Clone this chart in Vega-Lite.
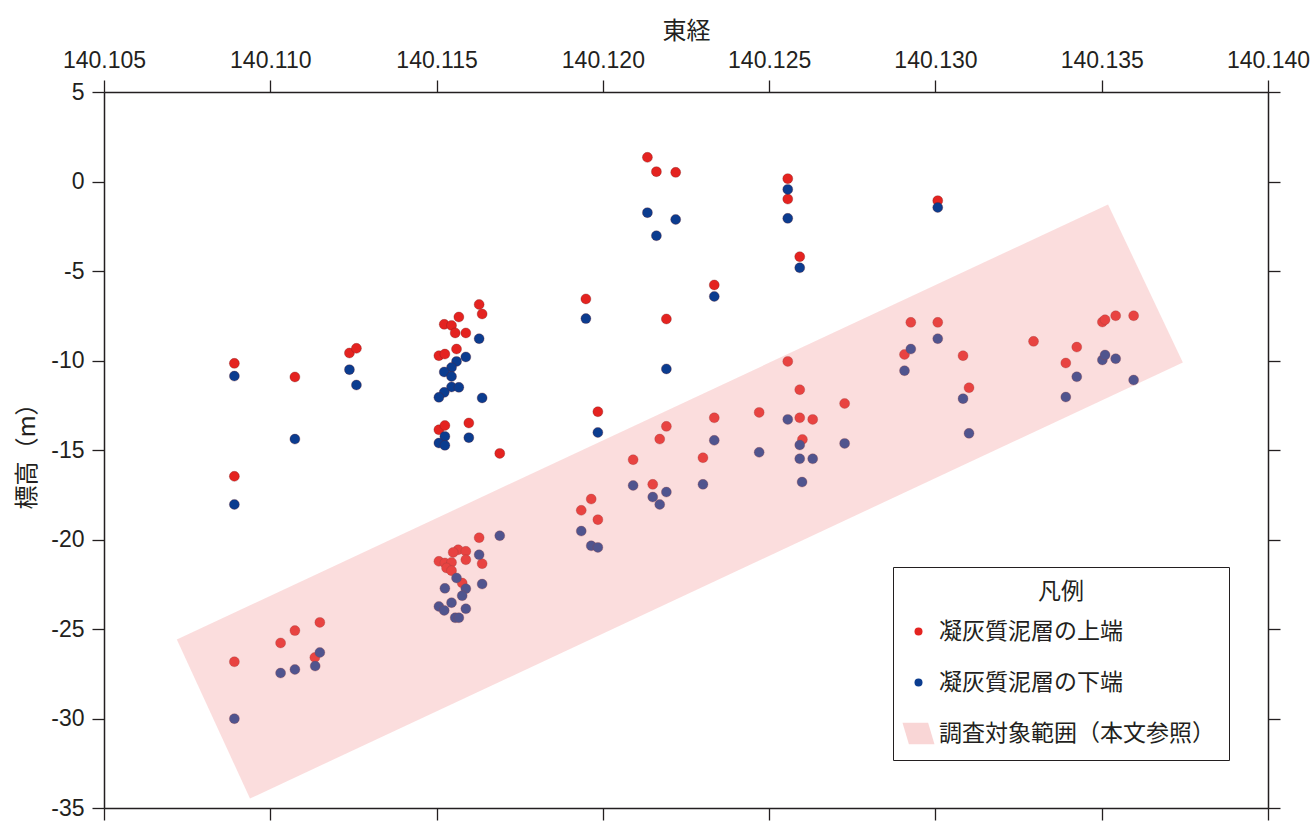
{
  "$schema": "https://vega.github.io/schema/vega-lite/v6.json",
  "width": 1164,
  "height": 716,
  "autosize": {"type": "none"},
  "padding": {"left": 104, "top": 92, "right": 42, "bottom": 13},
  "background": "white",
  "config": {
    "view": {"stroke": null},
    "axis": {
      "grid": false,
      "domainColor": "#231f20",
      "domainWidth": 1.5,
      "tickColor": "#231f20",
      "tickWidth": 1.3,
      "tickSize": 12,
      "labelFont": "Liberation Sans",
      "labelFontSize": 23,
      "labelColor": "#231f20",
      "titleFont": "Noto Sans CJK JP",
      "titleFontSize": 24,
      "titleFontWeight": "normal",
      "titleColor": "#231f20"
    }
  },
  "datasets": {
    "pts": [
      {"lon": 140.10892, "elev": -10.16, "kind": "凝灰質泥層の上端"},
      {"lon": 140.10892, "elev": -16.47, "kind": "凝灰質泥層の上端"},
      {"lon": 140.11074, "elev": -10.92, "kind": "凝灰質泥層の上端"},
      {"lon": 140.11238, "elev": -9.58, "kind": "凝灰質泥層の上端"},
      {"lon": 140.11259, "elev": -9.32, "kind": "凝灰質泥層の上端"},
      {"lon": 140.11628, "elev": -6.87, "kind": "凝灰質泥層の上端"},
      {"lon": 140.11637, "elev": -7.40, "kind": "凝灰質泥層の上端"},
      {"lon": 140.11567, "elev": -7.57, "kind": "凝灰質泥層の上端"},
      {"lon": 140.11523, "elev": -7.98, "kind": "凝灰質泥層の上端"},
      {"lon": 140.11545, "elev": -8.04, "kind": "凝灰質泥層の上端"},
      {"lon": 140.11556, "elev": -8.46, "kind": "凝灰質泥層の上端"},
      {"lon": 140.11588, "elev": -8.46, "kind": "凝灰質泥層の上端"},
      {"lon": 140.11560, "elev": -9.36, "kind": "凝灰質泥層の上端"},
      {"lon": 140.11507, "elev": -9.73, "kind": "凝灰質泥層の上端"},
      {"lon": 140.11525, "elev": -9.64, "kind": "凝灰質泥層の上端"},
      {"lon": 140.11507, "elev": -13.87, "kind": "凝灰質泥層の上端"},
      {"lon": 140.11525, "elev": -13.63, "kind": "凝灰質泥層の上端"},
      {"lon": 140.11597, "elev": -13.49, "kind": "凝灰質泥層の上端"},
      {"lon": 140.11690, "elev": -15.19, "kind": "凝灰質泥層の上端"},
      {"lon": 140.11628, "elev": -19.90, "kind": "凝灰質泥層の上端"},
      {"lon": 140.11565, "elev": -20.57, "kind": "凝灰質泥層の上端"},
      {"lon": 140.11588, "elev": -20.66, "kind": "凝灰質泥層の上端"},
      {"lon": 140.11550, "elev": -20.72, "kind": "凝灰質泥層の上端"},
      {"lon": 140.11507, "elev": -21.22, "kind": "凝灰質泥層の上端"},
      {"lon": 140.11525, "elev": -21.31, "kind": "凝灰質泥層の上端"},
      {"lon": 140.11545, "elev": -21.28, "kind": "凝灰質泥層の上端"},
      {"lon": 140.11530, "elev": -21.59, "kind": "凝灰質泥層の上端"},
      {"lon": 140.11545, "elev": -21.74, "kind": "凝灰質泥層の上端"},
      {"lon": 140.11588, "elev": -21.13, "kind": "凝灰質泥層の上端"},
      {"lon": 140.11637, "elev": -21.35, "kind": "凝灰質泥層の上端"},
      {"lon": 140.11577, "elev": -22.43, "kind": "凝灰質泥層の上端"},
      {"lon": 140.10892, "elev": -26.83, "kind": "凝灰質泥層の上端"},
      {"lon": 140.11031, "elev": -25.78, "kind": "凝灰質泥層の上端"},
      {"lon": 140.11074, "elev": -25.09, "kind": "凝灰質泥層の上端"},
      {"lon": 140.11149, "elev": -24.63, "kind": "凝灰質泥層の上端"},
      {"lon": 140.11134, "elev": -26.59, "kind": "凝灰質泥層の上端"},
      {"lon": 140.12134, "elev": 1.35, "kind": "凝灰質泥層の上端"},
      {"lon": 140.12161, "elev": 0.55, "kind": "凝灰質泥層の上端"},
      {"lon": 140.12219, "elev": 0.51, "kind": "凝灰質泥層の上端"},
      {"lon": 140.12556, "elev": 0.16, "kind": "凝灰質泥層の上端"},
      {"lon": 140.12556, "elev": -0.98, "kind": "凝灰質泥層の上端"},
      {"lon": 140.12592, "elev": -4.20, "kind": "凝灰質泥層の上端"},
      {"lon": 140.12335, "elev": -5.78, "kind": "凝灰質泥層の上端"},
      {"lon": 140.11949, "elev": -6.56, "kind": "凝灰質泥層の上端"},
      {"lon": 140.12191, "elev": -7.68, "kind": "凝灰質泥層の上端"},
      {"lon": 140.12556, "elev": -10.05, "kind": "凝灰質泥層の上端"},
      {"lon": 140.12592, "elev": -11.63, "kind": "凝灰質泥層の上端"},
      {"lon": 140.12727, "elev": -12.40, "kind": "凝灰質泥層の上端"},
      {"lon": 140.11985, "elev": -12.86, "kind": "凝灰質泥層の上端"},
      {"lon": 140.12191, "elev": -13.68, "kind": "凝灰質泥層の上端"},
      {"lon": 140.12171, "elev": -14.39, "kind": "凝灰質泥層の上端"},
      {"lon": 140.12335, "elev": -13.20, "kind": "凝灰質泥層の上端"},
      {"lon": 140.12470, "elev": -12.90, "kind": "凝灰質泥層の上端"},
      {"lon": 140.12592, "elev": -13.20, "kind": "凝灰質泥層の上端"},
      {"lon": 140.12631, "elev": -13.29, "kind": "凝灰質泥層の上端"},
      {"lon": 140.12600, "elev": -14.41, "kind": "凝灰質泥層の上端"},
      {"lon": 140.12091, "elev": -15.54, "kind": "凝灰質泥層の上端"},
      {"lon": 140.12301, "elev": -15.43, "kind": "凝灰質泥層の上端"},
      {"lon": 140.12150, "elev": -16.92, "kind": "凝灰質泥層の上端"},
      {"lon": 140.11965, "elev": -17.74, "kind": "凝灰質泥層の上端"},
      {"lon": 140.11935, "elev": -18.37, "kind": "凝灰質泥層の上端"},
      {"lon": 140.11985, "elev": -18.89, "kind": "凝灰質泥層の上端"},
      {"lon": 140.13007, "elev": -1.07, "kind": "凝灰質泥層の上端"},
      {"lon": 140.12926, "elev": -7.87, "kind": "凝灰質泥層の上端"},
      {"lon": 140.13007, "elev": -7.87, "kind": "凝灰質泥層の上端"},
      {"lon": 140.12907, "elev": -9.66, "kind": "凝灰質泥層の上端"},
      {"lon": 140.13083, "elev": -9.73, "kind": "凝灰質泥層の上端"},
      {"lon": 140.13101, "elev": -11.52, "kind": "凝灰質泥層の上端"},
      {"lon": 140.13295, "elev": -8.93, "kind": "凝灰質泥層の上端"},
      {"lon": 140.13425, "elev": -9.25, "kind": "凝灰質泥層の上端"},
      {"lon": 140.13392, "elev": -10.14, "kind": "凝灰質泥層の上端"},
      {"lon": 140.13502, "elev": -7.85, "kind": "凝灰質泥層の上端"},
      {"lon": 140.13510, "elev": -7.72, "kind": "凝灰質泥層の上端"},
      {"lon": 140.13542, "elev": -7.50, "kind": "凝灰質泥層の上端"},
      {"lon": 140.13596, "elev": -7.50, "kind": "凝灰質泥層の上端"},
      {"lon": 140.10892, "elev": -10.87, "kind": "凝灰質泥層の下端"},
      {"lon": 140.10892, "elev": -18.04, "kind": "凝灰質泥層の下端"},
      {"lon": 140.11238, "elev": -10.51, "kind": "凝灰質泥層の下端"},
      {"lon": 140.11259, "elev": -11.37, "kind": "凝灰質泥層の下端"},
      {"lon": 140.11074, "elev": -14.39, "kind": "凝灰質泥層の下端"},
      {"lon": 140.11628, "elev": -8.78, "kind": "凝灰質泥層の下端"},
      {"lon": 140.11588, "elev": -9.80, "kind": "凝灰質泥層の下端"},
      {"lon": 140.11560, "elev": -10.05, "kind": "凝灰質泥層の下端"},
      {"lon": 140.11545, "elev": -10.39, "kind": "凝灰質泥層の下端"},
      {"lon": 140.11523, "elev": -10.64, "kind": "凝灰質泥層の下端"},
      {"lon": 140.11545, "elev": -10.89, "kind": "凝灰質泥層の下端"},
      {"lon": 140.11545, "elev": -11.48, "kind": "凝灰質泥層の下端"},
      {"lon": 140.11567, "elev": -11.50, "kind": "凝灰質泥層の下端"},
      {"lon": 140.11523, "elev": -11.78, "kind": "凝灰質泥層の下端"},
      {"lon": 140.11507, "elev": -12.06, "kind": "凝灰質泥層の下端"},
      {"lon": 140.11637, "elev": -12.09, "kind": "凝灰質泥層の下端"},
      {"lon": 140.11525, "elev": -14.24, "kind": "凝灰質泥層の下端"},
      {"lon": 140.11507, "elev": -14.61, "kind": "凝灰質泥層の下端"},
      {"lon": 140.11525, "elev": -14.74, "kind": "凝灰質泥層の下端"},
      {"lon": 140.11597, "elev": -14.31, "kind": "凝灰質泥層の下端"},
      {"lon": 140.11690, "elev": -19.79, "kind": "凝灰質泥層の下端"},
      {"lon": 140.11628, "elev": -20.85, "kind": "凝灰質泥層の下端"},
      {"lon": 140.11560, "elev": -22.15, "kind": "凝灰質泥層の下端"},
      {"lon": 140.11588, "elev": -22.75, "kind": "凝灰質泥層の下端"},
      {"lon": 140.11525, "elev": -22.73, "kind": "凝灰質泥層の下端"},
      {"lon": 140.11637, "elev": -22.49, "kind": "凝灰質泥層の下端"},
      {"lon": 140.11577, "elev": -23.14, "kind": "凝灰質泥層の下端"},
      {"lon": 140.11545, "elev": -23.53, "kind": "凝灰質泥層の下端"},
      {"lon": 140.11507, "elev": -23.74, "kind": "凝灰質泥層の下端"},
      {"lon": 140.11523, "elev": -23.96, "kind": "凝灰質泥層の下端"},
      {"lon": 140.11588, "elev": -23.87, "kind": "凝灰質泥層の下端"},
      {"lon": 140.11556, "elev": -24.37, "kind": "凝灰質泥層の下端"},
      {"lon": 140.11567, "elev": -24.37, "kind": "凝灰質泥層の下端"},
      {"lon": 140.10892, "elev": -30.01, "kind": "凝灰質泥層の下端"},
      {"lon": 140.11149, "elev": -26.31, "kind": "凝灰質泥層の下端"},
      {"lon": 140.11135, "elev": -27.07, "kind": "凝灰質泥層の下端"},
      {"lon": 140.11074, "elev": -27.26, "kind": "凝灰質泥層の下端"},
      {"lon": 140.11031, "elev": -27.46, "kind": "凝灰質泥層の下端"},
      {"lon": 140.12134, "elev": -1.74, "kind": "凝灰質泥層の下端"},
      {"lon": 140.12219, "elev": -2.12, "kind": "凝灰質泥層の下端"},
      {"lon": 140.12161, "elev": -3.03, "kind": "凝灰質泥層の下端"},
      {"lon": 140.12556, "elev": -0.44, "kind": "凝灰質泥層の下端"},
      {"lon": 140.12556, "elev": -2.06, "kind": "凝灰質泥層の下端"},
      {"lon": 140.12592, "elev": -4.82, "kind": "凝灰質泥層の下端"},
      {"lon": 140.12335, "elev": -6.42, "kind": "凝灰質泥層の下端"},
      {"lon": 140.11949, "elev": -7.66, "kind": "凝灰質泥層の下端"},
      {"lon": 140.12191, "elev": -10.47, "kind": "凝灰質泥層の下端"},
      {"lon": 140.12727, "elev": -14.63, "kind": "凝灰質泥層の下端"},
      {"lon": 140.11985, "elev": -14.02, "kind": "凝灰質泥層の下端"},
      {"lon": 140.12335, "elev": -14.46, "kind": "凝灰質泥層の下端"},
      {"lon": 140.12470, "elev": -15.13, "kind": "凝灰質泥層の下端"},
      {"lon": 140.12556, "elev": -13.29, "kind": "凝灰質泥層の下端"},
      {"lon": 140.12592, "elev": -14.72, "kind": "凝灰質泥層の下端"},
      {"lon": 140.12592, "elev": -15.49, "kind": "凝灰質泥層の下端"},
      {"lon": 140.12631, "elev": -15.49, "kind": "凝灰質泥層の下端"},
      {"lon": 140.12599, "elev": -16.79, "kind": "凝灰質泥層の下端"},
      {"lon": 140.12091, "elev": -16.98, "kind": "凝灰質泥層の下端"},
      {"lon": 140.12301, "elev": -16.92, "kind": "凝灰質泥層の下端"},
      {"lon": 140.12150, "elev": -17.63, "kind": "凝灰質泥層の下端"},
      {"lon": 140.12191, "elev": -17.35, "kind": "凝灰質泥層の下端"},
      {"lon": 140.12171, "elev": -18.04, "kind": "凝灰質泥層の下端"},
      {"lon": 140.11935, "elev": -19.53, "kind": "凝灰質泥層の下端"},
      {"lon": 140.11965, "elev": -20.35, "kind": "凝灰質泥層の下端"},
      {"lon": 140.11985, "elev": -20.44, "kind": "凝灰質泥層の下端"},
      {"lon": 140.13007, "elev": -1.45, "kind": "凝灰質泥層の下端"},
      {"lon": 140.13007, "elev": -8.78, "kind": "凝灰質泥層の下端"},
      {"lon": 140.12926, "elev": -9.36, "kind": "凝灰質泥層の下端"},
      {"lon": 140.12907, "elev": -10.57, "kind": "凝灰質泥層の下端"},
      {"lon": 140.13083, "elev": -12.13, "kind": "凝灰質泥層の下端"},
      {"lon": 140.13101, "elev": -14.07, "kind": "凝灰質泥層の下端"},
      {"lon": 140.13425, "elev": -10.91, "kind": "凝灰質泥層の下端"},
      {"lon": 140.13392, "elev": -12.04, "kind": "凝灰質泥層の下端"},
      {"lon": 140.13502, "elev": -9.97, "kind": "凝灰質泥層の下端"},
      {"lon": 140.13510, "elev": -9.69, "kind": "凝灰質泥層の下端"},
      {"lon": 140.13542, "elev": -9.90, "kind": "凝灰質泥層の下端"},
      {"lon": 140.13596, "elev": -11.09, "kind": "凝灰質泥層の下端"}
    ],
    "zone": [
      {"lon": 140.10719, "elev": -25.59, "i": 1},
      {"lon": 140.13519, "elev": -1.28, "i": 2},
      {"lon": 140.13744, "elev": -10.11, "i": 3},
      {"lon": 140.10939, "elev": -34.47, "i": 4},
      {"lon": 140.10719, "elev": -25.59, "i": 5}
    ]
  },
  "layer": [
    {
      "data": {"name": "pts"},
      "mark": {"type": "point", "filled": true, "size": 100, "opacity": 1, "stroke": "#6b1d1d", "strokeWidth": 0.6, "strokeOpacity": 0.5},
      "encoding": {
        "x": {
          "field": "lon", "type": "quantitative",
          "scale": {"domain": [140.105, 140.14], "nice": false, "zero": false},
          "axis": {"orient": "top", "title": "東経", "values": [140.105, 140.11, 140.115, 140.12, 140.125, 140.13, 140.135, 140.14], "format": ".3f", "labelPadding": 8, "titlePadding": 6, "labelFlush": false}
        },
        "y": {
          "field": "elev", "type": "quantitative",
          "scale": {"domain": [-35, 5], "nice": false, "zero": false},
          "axis": {"orient": "left", "title": "標高（m）", "values": [-35, -30, -25, -20, -15, -10, -5, 0, 5], "labelExpr": "datum.value < 0 ? '-' + format(-datum.value, 'd') : format(datum.value, 'd')", "labelPadding": 8, "titlePadding": 11}
        },
        "color": {
          "field": "kind", "type": "nominal", "title": "凡例",
          "scale": {
            "domain": ["凝灰質泥層の上端", "凝灰質泥層の下端", "調査対象範囲（本文参照）"],
            "range": ["#e42320", "#0b3c8f", "#f9d6d6"]
          },
          "legend": {
            "orient": "none", "legendX": 789, "legendY": 475,
            "strokeColor": "#231f20", "fillColor": "white", "padding": 14,
            "titleAnchor": "middle", "titleFont": "Noto Sans CJK JP", "titleFontSize": 23, "titleFontWeight": "normal", "titleColor": "#231f20", "titlePadding": 16,
            "labelFont": "Noto Sans CJK JP", "labelFontSize": 23, "labelColor": "#231f20", "labelOffset": 9, "labelLimit": 400,
            "symbolSize": 64, "symbolStrokeWidth": 0, "rowPadding": 27
          }
        },
        "shape": {
          "field": "kind", "type": "nominal", "title": "凡例",
          "scale": {
            "domain": ["凝灰質泥層の上端", "凝灰質泥層の下端", "調査対象範囲（本文参照）"],
            "range": ["circle", "circle", "M -4 -2.7 L 2.4 -2.7 L 4 2.7 L -2.4 2.7 Z"]
          }
        }
      }
    },
    {
      "data": {"name": "zone"},
      "mark": {"type": "line", "fill": "#f28e8e", "fillOpacity": 0.3, "strokeWidth": 0, "strokeOpacity": 0},
      "encoding": {
        "x": {
          "field": "lon", "type": "quantitative",
          "axis": {"orient": "bottom", "title": null, "labels": false, "values": [140.105, 140.11, 140.115, 140.12, 140.125, 140.13, 140.135, 140.14]}
        },
        "y": {
          "field": "elev", "type": "quantitative",
          "axis": {"orient": "right", "title": null, "labels": false, "values": [-35, -30, -25, -20, -15, -10, -5, 0, 5]}
        },
        "order": {"field": "i", "type": "quantitative"}
      }
    }
  ],
  "resolve": {"axis": {"x": "independent", "y": "independent"}}
}
